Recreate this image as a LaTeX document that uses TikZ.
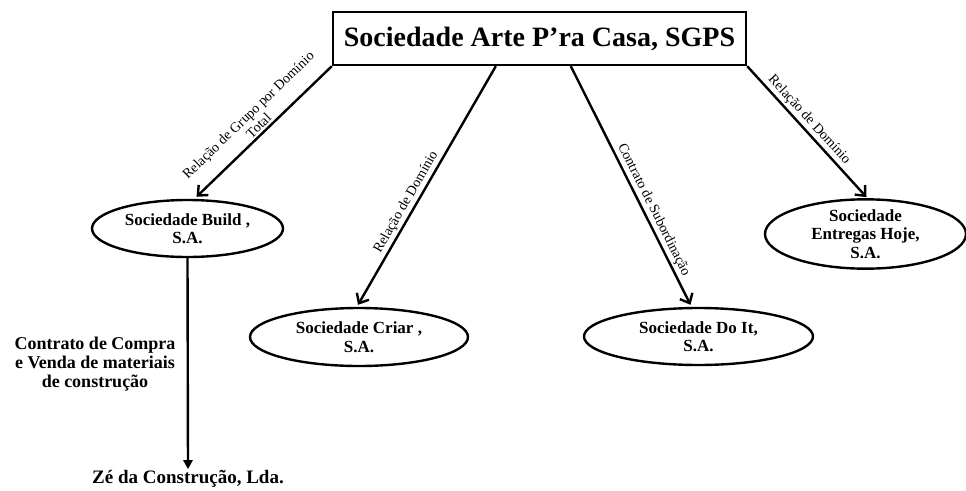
\documentclass[tikz,border=0pt]{standalone}
\usepackage{fontspec}
\setmainfont{Liberation Serif}
\usetikzlibrary{shapes.geometric,arrows.meta,calc}
\begin{document}
\begin{tikzpicture}[x=1pt,y=-1pt,
  holding/.style={draw,line width=2.4pt,inner sep=0pt,minimum width=413pt,minimum height=53pt,
    font=\bfseries\fontsize{28}{30}\selectfont},
  company/.style={draw,ellipse,line width=2.4pt,inner sep=0pt,align=center,
    font=\bfseries\fontsize{17}{18.5}\selectfont},
  rel/.style={line width=2.4pt,-{Straight Barb[length=8pt,width=14pt]}},
  rellabel/.style={sloped,above,inner sep=2pt,align=center,font=\fontsize{14}{15}\selectfont},
  boldlabel/.style={align=center,font=\bfseries\fontsize{18}{19}\selectfont}]
\useasboundingbox (0,0) rectangle (966,490);
\fill[white] (0,0) rectangle (966,490);

% holding company
\node[holding] (box) at (539.5,38.5) {Sociedade Arte P’ra Casa, SGPS};

% subsidiaries
\node[company,minimum width=191pt,minimum height=57pt] (build) at (187.5,228.5) {Sociedade Build ,\\S.A.};
\node[company,minimum width=218pt,minimum height=58pt] (criar) at (359,337) {Sociedade Criar ,\\S.A.};
\node[company,minimum width=229pt,minimum height=57pt] (doit) at (698.5,336.5) {Sociedade Do It,\\S.A.};
\node[company,minimum width=201pt,minimum height=62pt] (hoje) at (865.5,234) {Sociedade\\Entregas Hoje,\\S.A.};

% supplier
\node[boldlabel,font=\bfseries\fontsize{19}{20}\selectfont,inner sep=1pt] (ze) at (188,479) {Zé da Construção, Lda.};

% connection points on the holding box
\coordinate (s2) at ($(box.south west)+(164,0)$);
\coordinate (s3) at ($(box.south west)+(239,0)$);

% relations
\draw[rel] (box.south west) -- ($(build.north)+(9,-2)$)
  node[rellabel,pos=0.5] {Relação de Grupo por Domínio\\Total};
\draw[rel] (s2) -- ($(criar.north)+(-1,-2)$)
  node[rellabel,pos=0.59] {Relação de Domínio};
\draw[rel] (s3) -- ($(doit.north)+(-8,-2)$)
  node[rellabel,pos=0.62] {Contrato de Subordinação};
\draw[rel] (box.south east) -- ($(hoje.north)+(1,-1)$)
  node[rellabel,pos=0.46] {Relação de Domínio};

\draw[line width=2.4pt,-{Triangle[length=9pt,width=9pt]}] (build.south) -- (ze.north);

\node[boldlabel] (contract) at (95,364) {Contrato de Compra\\e Venda de materiais\\de construção};
\end{tikzpicture}
\end{document}
